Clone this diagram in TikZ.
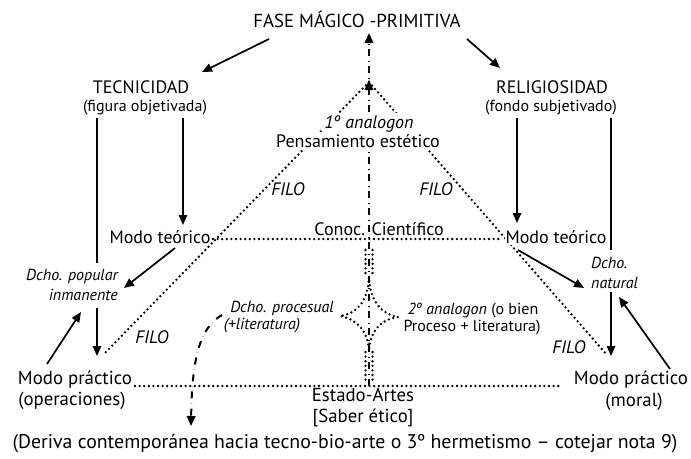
\documentclass[tikz,border=0pt]{standalone}
\usepackage{fontspec}
\setmainfont{PT Sans}
\usetikzlibrary{arrows.meta}
\begin{document}
\begin{tikzpicture}[x=1pt,y=-1pt,
  txt/.style={inner sep=0pt, anchor=base, font=\fontsize{18}{20}\selectfont},
  btx/.style={inner sep=0pt, anchor=base, font=\fontsize{18.8}{21}\selectfont},
  itx/.style={inner sep=0pt, anchor=base, font=\fontsize{18}{20}\selectfont\itshape},
  sitx/.style={inner sep=0pt, anchor=base, font=\fontsize{16}{18}\selectfont\itshape},
  stx/.style={inner sep=0pt, anchor=base, font=\fontsize{16}{18}\selectfont},
  mask/.style={fill=white, inner xsep=1pt, inner ysep=2pt},
  solid line/.style={line width=1.7pt},
  solid arrow/.style={line width=1.7pt, -{Triangle[length=10pt,width=8.5pt]}},
  dotline/.style={line width=2.6pt, line cap=round, dash pattern=on 0pt off 4.6pt},
  dashdotline/.style={line width=2pt, dash pattern=on 7pt off 5pt on 0.1pt off 5pt},
  dashdotarrow/.style={dashdotline, -{Triangle[length=10pt,width=8.5pt]}}]
\useasboundingbox (0,0) rectangle (691,458);

% coordinates
\coordinate (apex) at (369,82);
\coordinate (top) at (369,33);
\coordinate (base) at (369,386);
\coordinate (diagL) at (103,355);
\coordinate (diagR) at (607,355);
\coordinate (midL) at (213,239);
\coordinate (midR) at (502,239);
\coordinate (botL) at (135,386);
\coordinate (botR) at (562,386);

% dotted triangle
\draw[dotline] (apex) -- (diagL);
\draw[dotline] (apex) -- (diagR);
\draw[dotline] (midL) -- (midR);
\draw[dotline] (botL) -- (botR);

% central dash-dot axis
\draw[dashdotarrow] (base) -- ([yshift=2pt]apex);
\draw[dashdotarrow] ([yshift=-8pt]apex) -- (top);

% star
\coordinate (sT) at (369,277);
\coordinate (sL) at (340,316);
\coordinate (sB) at (369,351);
\coordinate (sR) at (398,317);
\draw[dotline] (sT) .. controls (368,302) and (356,314) .. (sL)
  .. controls (356,319) and (368,330) .. (sB)
  .. controls (370,330) and (382,319) .. (sR)
  .. controls (382,314) and (370,302) .. (sT);
\draw[dotline] (365.5,250) -- (365.5,276);
\draw[dotline] (372.5,250) -- (372.5,276);
\draw[dotline] (365.5,352) -- (365.5,384);
\draw[dotline] (372.5,352) -- (372.5,384);

% texts
\node[btx] (fase) at (357,27) {FASE MÁGICO -PRIMITIVA};
\node[txt] (tec) at (141,93) {TECNICIDAD};
\node[stx] (tecsub) at (145,111) {(figura objetivada)};
\node[txt] (rel) at (552,93) {RELIGIOSIDAD};
\node[stx] (relsub) at (551,111) {(fondo subjetivado)};
\node[itx, mask] (an1) at (369,128) {1º analogon};
\node[txt, mask] (pens) at (358,147) {Pensamiento estético};
\node[itx] (filoTL) at (288,195) {FILO};
\node[itx] (filoTR) at (436,195) {FILO};
\node[txt] (conoc) at (379,235) {Conoc. Científico};
\node[txt] (modoTL) at (160,243) {Modo teórico};
\node[txt, mask] (modoTR) at (556,243) {Modo teórico};
\node[sitx, anchor=base east] (pop1) at (118,280) {Dcho. popular};
\node[sitx, anchor=base east] (pop2) at (118,300) {inmanente};
\node[sitx, anchor=base west] (nat1) at (591,268) {Dcho.};
\node[sitx, anchor=base west] (nat2) at (591,288) {natural};
\node[sitx] (proc1) at (282,312) {Dcho. procesual};
\node[sitx] (proc2) at (262,329) {(+literatura)};
\node[stx] (an2a) at (473,314) {\itshape 2º analogon\upshape\ (o bien};
\node[stx] (an2b) at (472,331) {Proceso + literatura)};
\node[itx] (filoBL) at (152,343) {FILO};
\node[itx] (filoBR) at (569,353) {FILO};
\node[btx] (modoPL) at (75,384) {Modo práctico};
\node[btx] (modoPLs) at (72,405) {(operaciones)};
\node[btx] (modoPR) at (631,384) {Modo práctico};
\node[btx] (modoPRs) at (634,406) {(moral)};
\node[btx] (estado) at (363,401) {Estado-Artes};
\node[btx] (saber) at (363,422) {[Saber ético]};
\node[inner sep=0pt, anchor=base, font=\fontsize{19.8}{22}\selectfont] (deriva) at (345,448) {(Deriva contemporánea hacia tecno-bio-arte o 3º hermetismo – cotejar nota 9)};

% procesual curve
\coordinate (cS) at (222,315);
\coordinate (cE) at (191,426);
\draw[dashdotarrow] (cS) .. controls (199,328) and (192,360) .. (cE);

% solid arrows
\coordinate (fL) at (269,39);
\coordinate (tL) at (202,72);
\coordinate (fR) at (467,39);
\coordinate (tR) at (500,68);
\draw[solid arrow] (fL) -- (tL);
\draw[solid arrow] (fR) -- (tR);

\draw[solid line] (97,118) coordinate (lo1) -- (97,263) coordinate (lo2);
\draw[solid arrow] (97,308) coordinate (lo3) -- (97,356) coordinate (lo4);
\draw[solid arrow] (183,118) coordinate (li1) -- (183,225) coordinate (li2);
\draw[solid arrow] (517,118) coordinate (ri1) -- (517,223) coordinate (ri2);
\draw[solid line] (611,118) coordinate (ro1) -- (611,250) coordinate (ro2);
\draw[solid arrow] (611,292) coordinate (ro3) -- (611,356) coordinate (ro4);

\draw[solid arrow] (175,248) coordinate (a1) -- (124,288) coordinate (a2);
\draw[solid arrow] (518,250) coordinate (b1) -- (584,288) coordinate (b2);
\draw[solid arrow] (47,364) coordinate (c1) -- (81,312) coordinate (c2);
\draw[solid arrow] (670,369) coordinate (d1) -- (619,297) coordinate (d2);
\end{tikzpicture}
\end{document}
